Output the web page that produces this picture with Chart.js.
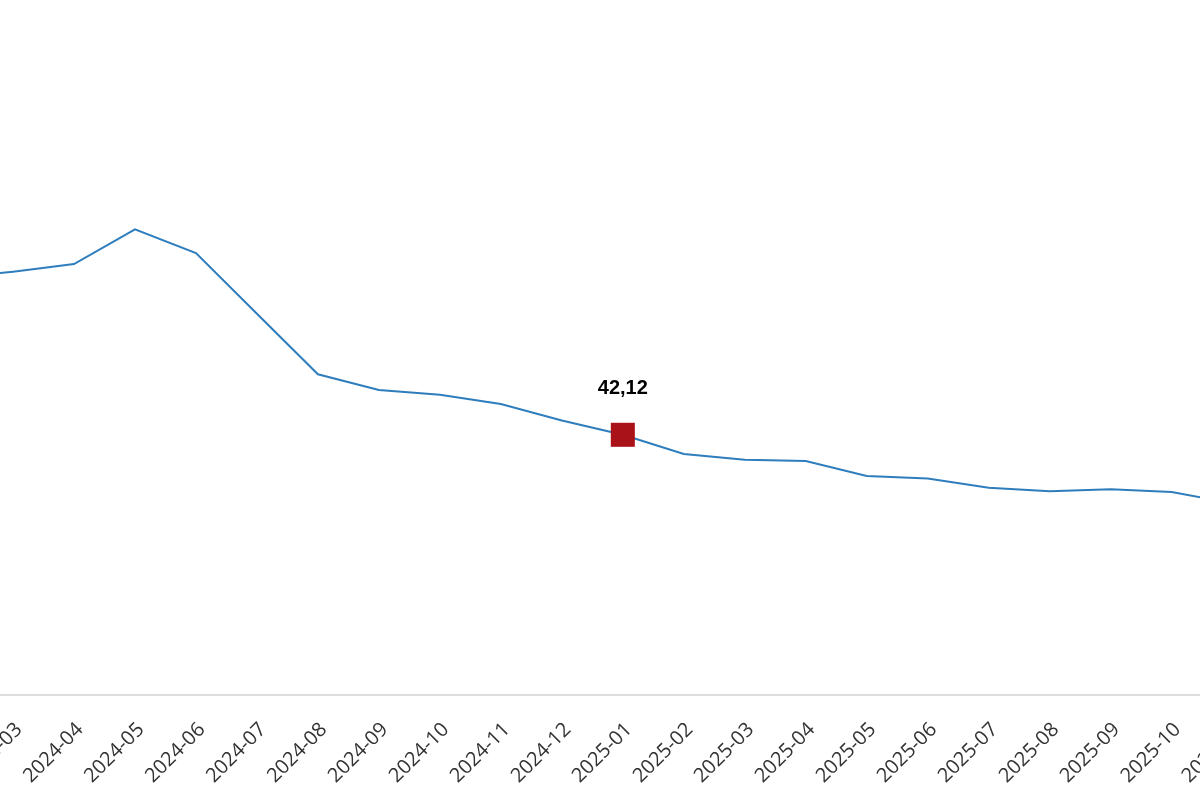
<!DOCTYPE html>
<html>
<head>
<meta charset="utf-8">
<script src="https://cdn.jsdelivr.net/npm/chart.js@4.4.1/dist/chart.umd.min.js"></script>
<style>
  html, body { margin: 0; padding: 0; background: #ffffff; overflow: hidden; }
  #wrap { width: 1200px; height: 800px; position: relative; }
</style>
</head>
<body>
<div id="wrap"><canvas id="c" width="1200" height="800"></canvas></div>
<script>
// ---- data ----
const months = ['2024-02','2024-03','2024-04','2024-05','2024-06','2024-07','2024-08','2024-09',
  '2024-10','2024-11','2024-12','2025-01','2025-02','2025-03','2025-04','2025-05','2025-06',
  '2025-07','2025-08','2025-09','2025-10','2025-11'];
const values = [67.50, 68.52, 69.76, 75.38, 71.54, 61.70, 51.91, 49.37, 48.61, 47.10, 44.43,
  42.12, 39.01, 38.09, 37.88, 35.45, 35.04, 33.55, 32.97, 33.30, 32.86, 31.01];
const highlightMonth = '2025-01';
// visible window (in month positions) and value range
const viewStart = 0.7865;
const viewEnd = 20.465;
const yMin = 0;
const yMax = 112.5;

const highlightIndex = months.indexOf(highlightMonth);
const points = months.map((m, i) => ({ x: i, y: values[i] }));
const fmt = v => v.toLocaleString('de-DE', { minimumFractionDigits: 2, maximumFractionDigits: 2 });

const valueLabelPlugin = {
  id: 'valueLabel',
  afterDatasetsDraw(chart) {
    const meta = chart.getDatasetMeta(0);
    const el = meta.data[highlightIndex];
    if (!el) return;
    const ctx = chart.ctx;
    ctx.save();
    ctx.font = 'bold 20px "Liberation Sans", Arial, sans-serif';
    ctx.fillStyle = '#000000';
    ctx.textAlign = 'center';
    ctx.textBaseline = 'middle';
    ctx.fillText(fmt(values[highlightIndex]), el.x, el.y - 46);
    ctx.restore();
  }
};

new Chart(document.getElementById('c'), {
  type: 'line',
  data: {
    datasets: [{
      data: points,
      borderColor: '#2e7dbd',
      borderWidth: 2,
      tension: 0,
      fill: false,
      pointStyle: 'rect',
      pointRadius: ctx => ctx.dataIndex === highlightIndex ? 17 : 0,
      pointHoverRadius: ctx => ctx.dataIndex === highlightIndex ? 17 : 0,
      pointBackgroundColor: '#aa1219',
      pointBorderColor: '#aa1219',
      pointBorderWidth: 0
    }]
  },
  options: {
    responsive: false,
    animation: false,
    events: [],
    layout: { padding: 0 },
    plugins: { legend: { display: false }, tooltip: { enabled: false } },
    scales: {
      x: {
        type: 'linear',
        min: viewStart,
        max: viewEnd,
        grid: { display: false, drawTicks: false },
        border: { display: true, color: '#dddddd', width: 2 },
        afterBuildTicks: scale => { scale.ticks = months.map((m, i) => ({ value: i })); },
        afterFit: scale => { scale.paddingLeft = 0; scale.paddingRight = 0; scale.height = 105; },
        ticks: {
          autoSkip: false,
          minRotation: 45,
          maxRotation: 45,
          padding: 23,
          labelOffset: 6,
          color: '#333333',
          font: { family: '"Open Sans", "Noto Sans", sans-serif', size: 20 },
          callback: (v) => months[v] !== undefined ? months[v] : ''
        }
      },
      y: {
        display: false,
        min: yMin,
        max: yMax
      }
    }
  },
  plugins: [valueLabelPlugin]
});
</script>
</body>
</html>
